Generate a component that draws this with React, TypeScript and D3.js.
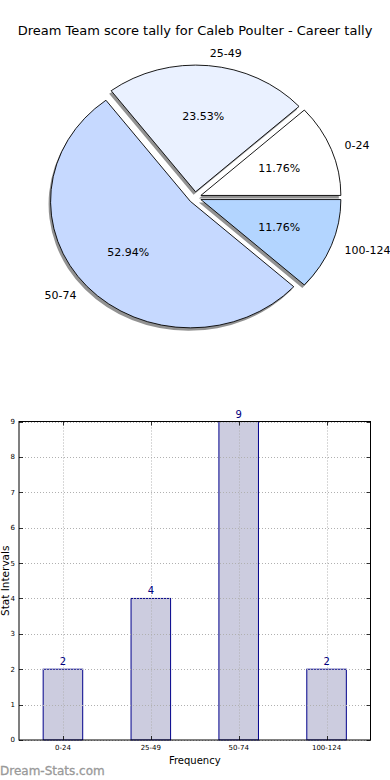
import * as d3 from "d3";
import { useEffect, useRef } from "react";

const title = "Dream Team score tally for Caleb Poulter - Career tally";
const categories = ["0-24", "25-49", "50-74", "100-124"];
const counts = [2, 4, 9, 2];
const sliceColors = ["#ffffff", "#eaf1ff", "#c6d9ff", "#b3d5ff"];
const yTicks = [0, 1, 2, 3, 4, 5, 6, 7, 8, 9];

export default function App() {
  const ref = useRef<SVGSVGElement>(null);

  useEffect(() => {
    const svg = d3.select(ref.current);
    svg.selectAll("*").remove();
    const font = "DejaVu Sans, sans-serif";

    svg
      .append("text")
      .attr("x", 195)
      .attr("y", 35)
      .attr("text-anchor", "middle")
      .attr("font-family", font)
      .attr("font-size", 13)
      .text(title);

    // pie, drawn on a unit circle and stretched into an ellipse
    const cx = 195, cy = 197.5, rx = 140, ry = 126.7, explode = 0.045;
    const total = d3.sum(counts);
    const pie = d3
      .pie<number>()
      .sort(null)
      .startAngle(Math.PI / 2)
      .endAngle(Math.PI / 2 - 2 * Math.PI)
      .value((d) => d);
    const arcs = pie(counts);
    const arc = d3.arc<d3.PieArcDatum<number>>().innerRadius(0).outerRadius(1);
    const mid = (d: d3.PieArcDatum<number>) => (d.startAngle + d.endAngle) / 2;
    const at = (d: d3.PieArcDatum<number>, r: number) => {
      const a = mid(d);
      return [cx + r * rx * Math.sin(a), cy - r * ry * Math.cos(a)];
    };

    const pg = svg.append("g");
    arcs.forEach((d, i) => {
      const a = mid(d);
      const ox = explode * Math.sin(a), oy = -explode * Math.cos(a);
      pg.append("path")
        .attr("transform", `translate(${cx - 2},${cy + 3}) scale(${rx},${ry}) translate(${ox},${oy})`)
        .attr("d", arc(d))
        .attr("fill", "#7f7f7f")
        .attr("opacity", 0.85);
      pg.append("path")
        .attr("transform", `translate(${cx},${cy}) scale(${rx},${ry}) translate(${ox},${oy})`)
        .attr("d", arc(d))
        .attr("fill", sliceColors[i])
        .attr("stroke", "#000")
        .attr("stroke-width", 0.9)
        .attr("vector-effect", "non-scaling-stroke");
    });
    arcs.forEach((d, i) => {
      const [lx, ly] = at(d, 1.1 + explode);
      pg.append("text")
        .attr("x", lx)
        .attr("y", ly)
        .attr("dy", "0.35em")
        .attr("text-anchor", lx >= cx ? "start" : "end")
        .attr("font-family", font)
        .attr("font-size", 11)
        .text(categories[i]);
      const [px, py] = at(d, 0.6 + explode);
      pg.append("text")
        .attr("x", px)
        .attr("y", py)
        .attr("dy", "0.35em")
        .attr("text-anchor", "middle")
        .attr("font-family", font)
        .attr("font-size", 11)
        .text(((counts[i] / total) * 100).toFixed(2) + "%");
    });

    // bar chart
    const left = 19, right = 370.5, top = 421.5, bottom = 740;
    const x = d3
      .scaleBand()
      .domain(categories)
      .range([left, right])
      .paddingInner(0.55)
      .paddingOuter(0.275);
    const y = d3.scaleLinear().domain([0, 9]).range([bottom, top]);
    const bg = svg.append("g");

    bg.selectAll("rect.bar")
      .data(counts)
      .join("rect")
      .attr("x", (_, i) => x(categories[i])!)
      .attr("y", (d) => y(d))
      .attr("width", x.bandwidth())
      .attr("height", (d) => bottom - y(d))
      .attr("fill", "#ccccdf")
      .attr("stroke", "#00008b")
      .attr("stroke-width", 1);

    const grid = bg.append("g").attr("stroke", "#b0b0b0").attr("stroke-width", 1).attr("stroke-dasharray", "1,2");
    yTicks.forEach((t) => {
      grid.append("line").attr("x1", left).attr("x2", right).attr("y1", Math.round(y(t)) + 0.5).attr("y2", Math.round(y(t)) + 0.5);
    });
    categories.forEach((c) => {
      const cxp = Math.round(x(c)! + x.bandwidth() / 2) + 0.5;
      grid.append("line").attr("x1", cxp).attr("x2", cxp).attr("y1", top).attr("y2", bottom);
    });

    const ticks = bg.append("g").attr("stroke", "#000").attr("stroke-width", 0.8);
    yTicks.forEach((t) => {
      const yy = Math.round(y(t)) + 0.5;
      ticks.append("line").attr("x1", left).attr("x2", left + 4).attr("y1", yy).attr("y2", yy);
      ticks.append("line").attr("x1", right - 4).attr("x2", right).attr("y1", yy).attr("y2", yy);
    });
    categories.forEach((c) => {
      const xx = Math.round(x(c)! + x.bandwidth() / 2) + 0.5;
      ticks.append("line").attr("x1", xx).attr("x2", xx).attr("y1", bottom).attr("y2", bottom - 4);
      ticks.append("line").attr("x1", xx).attr("x2", xx).attr("y1", top).attr("y2", top + 4);
    });

    bg.append("rect")
      .attr("x", left)
      .attr("y", top)
      .attr("width", right - left)
      .attr("height", bottom - top)
      .attr("fill", "none")
      .attr("stroke", "#000")
      .attr("stroke-width", 1);

    bg.selectAll("text.ytick")
      .data(yTicks)
      .join("text")
      .attr("x", left - 4)
      .attr("y", (d) => y(d))
      .attr("dy", "0.35em")
      .attr("text-anchor", "end")
      .attr("font-family", font)
      .attr("font-size", 7)
      .text((d) => d);

    bg.selectAll("text.xtick")
      .data(categories)
      .join("text")
      .attr("x", (d) => x(d)! + x.bandwidth() / 2)
      .attr("y", bottom + 10)
      .attr("text-anchor", "middle")
      .attr("font-family", font)
      .attr("font-size", 7)
      .text((d) => d);

    bg.selectAll("text.val")
      .data(counts)
      .join("text")
      .attr("x", (_, i) => x(categories[i])! + x.bandwidth() / 2)
      .attr("y", (d) => y(d) - 4)
      .attr("text-anchor", "middle")
      .attr("font-family", font)
      .attr("font-size", 10)
      .attr("fill", "#00007f")
      .text((d) => d);

    bg.append("text")
      .attr("x", (left + right) / 2)
      .attr("y", 764)
      .attr("text-anchor", "middle")
      .attr("font-family", font)
      .attr("font-size", 10)
      .text("Frequency");

    bg.append("text")
      .attr("transform", `translate(8.5,${(top + bottom) / 2}) rotate(-90)`)
      .attr("text-anchor", "middle")
      .attr("font-family", font)
      .attr("font-size", 10.5)
      .text("Stat Intervals");

    svg
      .append("text")
      .attr("x", 0)
      .attr("y", 775)
      .attr("font-family", font)
      .attr("font-size", 12)
      .attr("fill", "#999999")
      .attr("stroke", "#999999")
      .attr("stroke-width", 0.3)
      .text("Dream-Stats.com");
  }, []);

  return (
    <svg
      ref={ref}
      width={390}
      height={780}
      style={{ position: "absolute", left: 0, top: 0, background: "#fff" }}
    ></svg>
  );
}
